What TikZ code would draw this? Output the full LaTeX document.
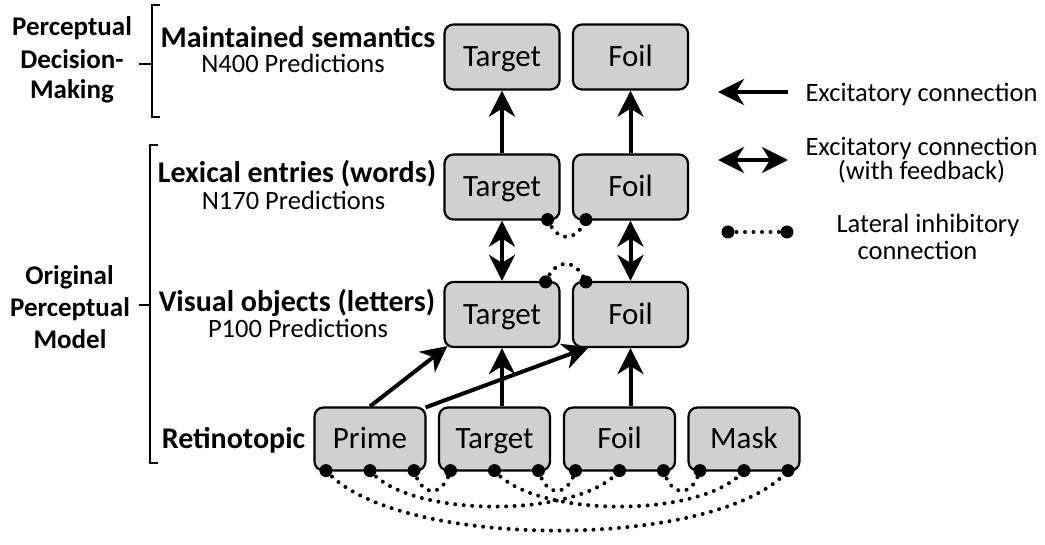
\documentclass[tikz,border=0pt]{standalone}
\usepackage{fontspec}
\setmainfont{Carlito}
\usetikzlibrary{arrows.meta,calc}
\definecolor{boxgray}{RGB}{208,208,208}
\begin{document}
\begin{tikzpicture}[x=1pt,y=-1pt,
  box/.style={draw, line width=2.2pt, rounded corners=9pt, fill=boxgray,
    minimum width=115pt, minimum height=65pt, inner sep=0pt,
    text height=20pt, text depth=0pt,
    font=\fontsize{31}{33}\selectfont},
  rbox/.style={box, minimum width=111pt, minimum height=63pt},
  tip/.tip={Stealth[length=26pt,width=26pt,inset=8pt]},
  exc/.style={line width=4pt, -tip},
  dexc/.style={line width=4pt, tip-tip},
  inh/.style={line width=4pt, line cap=round, dash pattern=on 0pt off 8.5pt},
  dot/.style={fill=black},
  brk/.style={line width=2.8pt},
  lay/.style={anchor=base, inner sep=0pt, font=\fontsize{30}{32}\selectfont\bfseries},
  pred/.style={anchor=base, inner sep=0pt, font=\fontsize{26.5}{28}\selectfont},
  side/.style={anchor=base, inner sep=0pt, font=\fontsize{27}{31}\selectfont\bfseries},
  leg/.style={anchor=base, inner sep=0pt, font=\fontsize{26.5}{28}\selectfont}
]
\useasboundingbox (0,0) rectangle (1045,545);

% boxes
\node[box] (tT) at (502,57) {Target};
\node[box] (tF) at (630.5,57) {Foil};
\node[box] (lT) at (502,187) {Target};
\node[box] (lF) at (630.5,187) {Foil};
\node[box] (vT) at (502,314.5) {Target};
\node[box] (vF) at (630.5,314.5) {Foil};
\node[rbox] (rP) at (370,439) {Prime};
\node[rbox] (rT) at (494.5,439) {Target};
\node[rbox] (rF) at (619.5,439) {Foil};
\node[rbox] (rM) at (744,439) {Mask};

% excitatory connections
\draw[exc] (lT.north) -- (tT.south);
\draw[exc] (lF.north) -- (tF.south);
\draw[dexc] (vT.north) -- (lT.south);
\draw[dexc] (vF.north) -- (lF.south);
\draw[exc] (vT.south |- rT.north) -- (vT.south);
\draw[exc] (vF.south |- rF.north) -- (vF.south);
\draw[exc] (rP.north) -- ($(vT.south west)+(4,-2)$);
\draw[exc] ($(rP.north east)+(-1,1)$) -- ($(vF.south west)+(17,-1)$);

% lateral inhibition between word / letter units
\coordinate (lTd) at ($(lT.south east)+(-13,-1)$);
\coordinate (lFd) at ($(lF.south west)+(14,-1)$);
\coordinate (vTd) at ($(vT.north east)+(-15,1)$);
\coordinate (vFd) at ($(vF.north west)+(14,1)$);
\draw[inh] (lTd) .. controls +(10,23) and +(-10,23) .. (lFd);
\draw[inh] (vTd) .. controls +(10,-24) and +(-10,-24) .. (vFd);
\foreach \c in {lTd,lFd,vTd,vFd} \fill[dot] (\c) circle (6.5);

% retinotopic dots
\foreach \b in {rP,rT,rF,rM}{
  \coordinate (\b1) at ($(\b.south)+(-44,-1)$);
  \coordinate (\b2) at ($(\b.south)+(0,-1)$);
  \coordinate (\b3) at ($(\b.south)+(44,-1)$);
}
\draw[inh] (rP1) .. controls +(70,80) and +(-70,80) .. (rM3);
\draw[inh] (rP2) .. controls +(40,48) and +(-40,48) .. (rF2);
\draw[inh] (rT2) .. controls +(40,48) and +(-40,48) .. (rM2);
\draw[inh] (rP3) .. controls +(8,27) and +(-8,27) .. (rT1);
\draw[inh] (rT3) .. controls +(8,27) and +(-8,27) .. (rF1);
\draw[inh] (rF3) .. controls +(8,27) and +(-8,27) .. (rM1);
\foreach \b in {rP,rT,rF,rM}{
  \foreach \i in {1,2,3} \fill[dot] (\b\i) circle (6.5);
}

% layer labels
\node[lay] (l1) at (298,48) {Maintained semantics};
\node[pred] (p1) at (293,73) {N400 Predictions};
\node[lay] (l2) at (297,183) {Lexical entries (words)};
\node[pred] (p2) at (293.5,210) {N170 Predictions};
\node[lay] (l3) at (297,312) {Visual objects (letters)};
\node[pred] (p3) at (298,338) {P100 Predictions};
\node[lay] (l4) at (233.5,449) {Retinotopic};

% brackets
\draw[brk] (160,5) -- (152,5) -- (152,117) -- (160,117);
\draw[brk] (139,64) -- (152,64);
\draw[brk] (158,145) -- (150,145) -- (150,463) -- (158,463);
\draw[brk] (139,305) -- (150,305);
\node[side] (s1a) at (72,36) {Perceptual};
\node[side] (s1b) at (72,69) {Decision-};
\node[side] (s1c) at (72,99) {Making};
\node[side] (s2a) at (69.5,285) {Original};
\node[side] (s2b) at (70,317) {Perceptual};
\node[side] (s2c) at (70,349) {Model};

% legend
\coordinate (a1s) at (788,92);
\coordinate (a1e) at (718,92);
\draw[exc] (a1s) -- (a1e);
\node[leg] (t1) at (921.5,102) {Excitatory connection};
\coordinate (a2s) at (718,160);
\coordinate (a2e) at (788,160);
\draw[dexc] (a2s) -- (a2e);
\node[leg] (t2a) at (921.5,156) {Excitatory connection};
\node[leg] (t2b) at (921.5,180) {(with feedback)};
\coordinate (d1) at (728,232);
\coordinate (d2) at (787,232);
\draw[inh] (d1) -- (d2);
\fill[dot] (d1) circle (6.5);
\fill[dot] (d2) circle (6.5);
\node[leg] (t3a) at (928,233) {Lateral inhibitory};
\node[leg] (t3b) at (917.5,260) {connection};
\end{tikzpicture}
\end{document}
